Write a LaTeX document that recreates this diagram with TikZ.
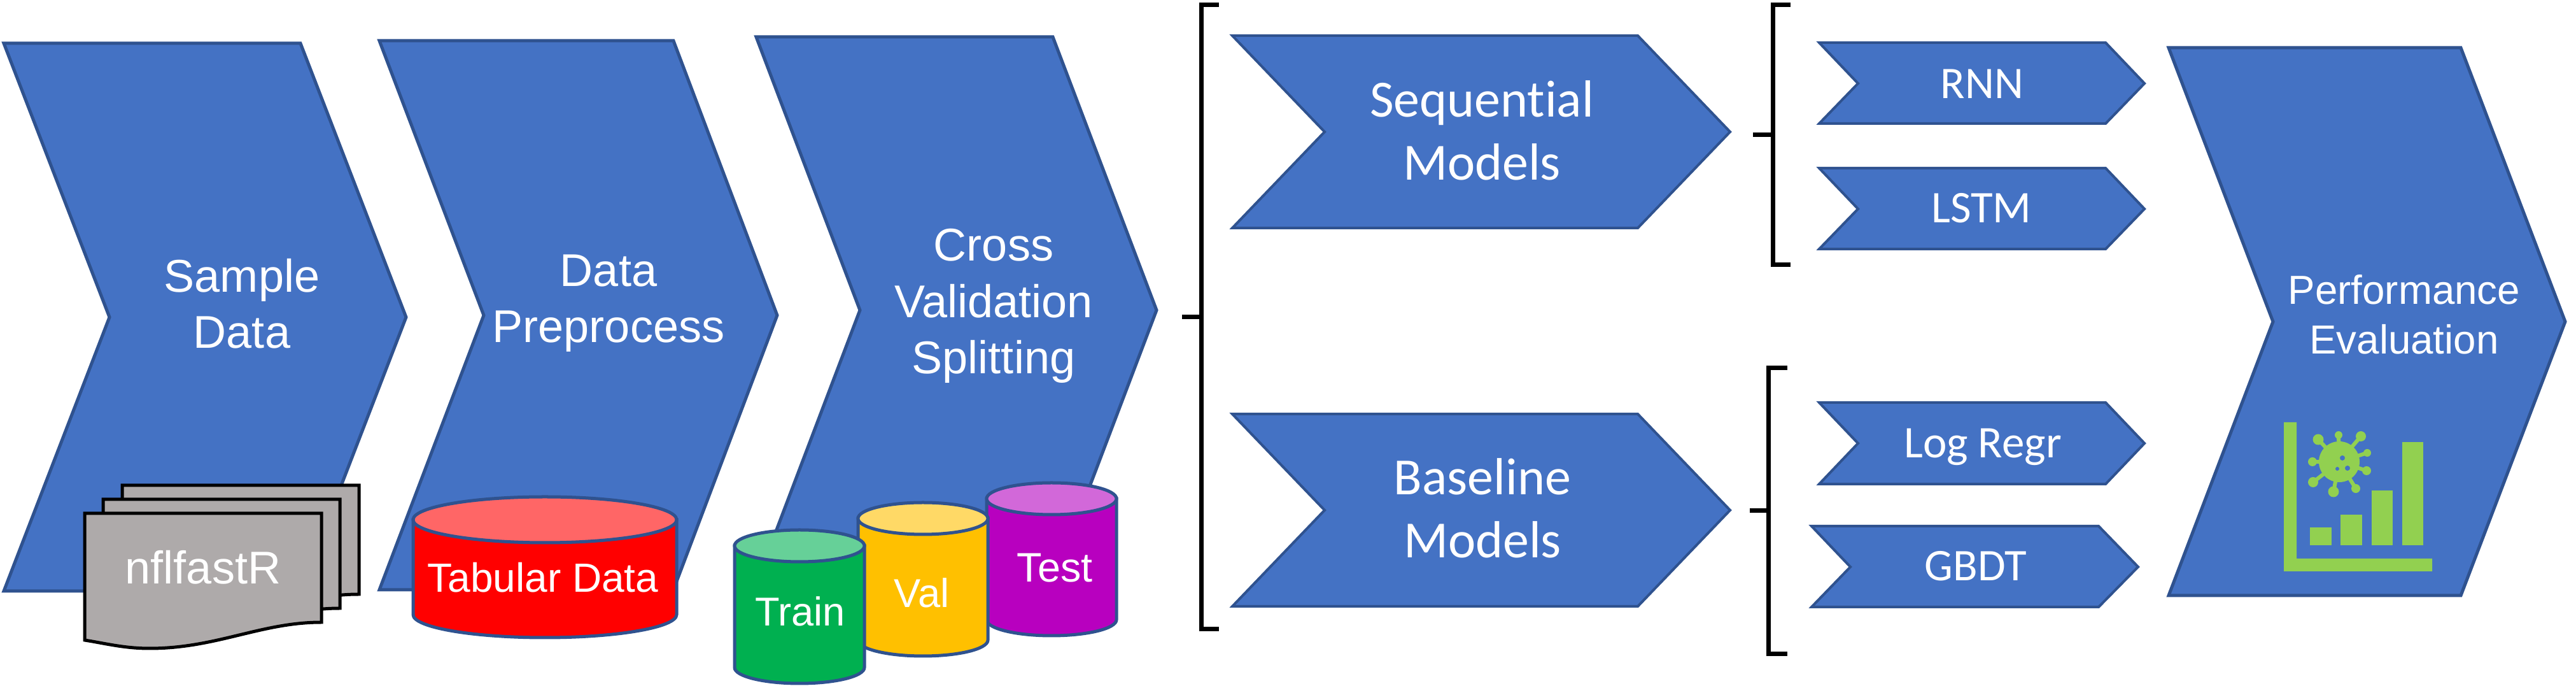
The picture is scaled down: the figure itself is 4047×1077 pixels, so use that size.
\documentclass[tikz,border=0pt]{standalone}
\usepackage{fontspec}
\setmainfont{Liberation Sans}
\newfontfamily\calfont[Ligatures=NoCommon]{Carlito}
\definecolor{chevfill}{HTML}{4472C4}
\definecolor{chevline}{HTML}{2F528F}
\definecolor{docfill}{HTML}{AEAAAA}
\definecolor{iconcol}{HTML}{92D050}
\tikzset{
  px/.style={line width=#1*0.2845pt},
  chevshape/.style={fill=chevfill,draw=chevline,line join=miter,miter limit=10},
  label/.style={text=white,inner sep=0pt,outer sep=0pt,align=center,anchor=base},
  arialbig/.style={label,font=\fontsize{20.5pt}{25.3pt}\selectfont},
  arialmid/.style={label,font=\fontsize{18.1pt}{22.2pt}\selectfont},
  calbig/.style={label,font=\calfont\fontsize{23.3pt}{28.2pt}\selectfont},
  calsmall/.style={label,font=\calfont\fontsize{20.2pt}{24pt}\selectfont},
  bracketline/.style={draw=black,px=7,line join=miter,line cap=butt},
  docshape/.style={fill=docfill,draw=black,px=5,line join=miter},
  cylshape/.style={draw=chevline,px=5},
  icon/.style={fill=iconcol,draw=none},
  spike/.style={draw=iconcol,px=6,line cap=round},
}
% name, line width, left, notch, shoulder, tip, top, mid, bottom
\newcommand{\chev}[9]{%
  \draw[chevshape,px=#2] (#3,#7) -- (#5,#7) -- (#6,#8) -- (#5,#9) -- (#3,#9) -- (#4,#8) -- cycle;
  \coordinate (#1) at (#6,#8);
}
% name, cx, top ellipse cy, bottom extreme, rx, ry, body, top colour
\newcommand{\cyl}[8]{%
  \pgfmathsetmacro{\cylL}{#2-#5}\pgfmathsetmacro{\cylR}{#2+#5}\pgfmathsetmacro{\cylB}{#4-#6}%
  \draw[cylshape,fill=#7] (\cylL,#3) -- (\cylL,\cylB) arc[start angle=180,end angle=360,x radius=#5*0.01cm,y radius=#6*0.01cm] -- (\cylR,#3) -- cycle;
  \draw[cylshape,fill=#8] (#2,#3) ellipse[x radius=#5*0.01cm,y radius=#6*0.01cm];
  \coordinate (#1) at (#2,#3);
}
\newcommand{\docsheet}[2]{%
  \begin{scope}[shift={(#1,#2)}]
    \draw[docshape] (133,806) -- (505,806) -- (505,977) .. controls (410,977) and (340,1018) .. (235,1018) .. controls (195,1018) and (165,1010) .. (133,1005) -- cycle;
  \end{scope}
}
\begin{document}
\begin{tikzpicture}[x=0.01cm,y=-0.01cm]
\useasboundingbox (0,0) rectangle (4047,1077);
\fill[white] (0,0) rectangle (4047,1077);

% main chevrons
\chev{c1}{5}{6}{172}{472}{638}{68}{498}{928}
\chev{c2}{5}{596}{760}{1058}{1221}{64}{495}{926}
\chev{c3}{5}{1188}{1351}{1654}{1817}{58}{487}{916}
\chev{c4}{5}{3407}{3571}{3866}{4030}{75}{505}{935}
\chev{seq}{4}{1936}{2081}{2573}{2718}{56}{207}{358}
\chev{base}{4}{1936}{2081}{2573}{2718}{650}{801}{952}
\chev{rnn}{4}{2858}{2919}{3308}{3369}{67}{131}{194}
\chev{lstm}{4}{2858}{2919}{3308}{3369}{264}{328}{391}
\chev{logr}{4}{2858}{2919}{3308}{3369}{632}{696}{760}
\chev{gbdt}{4}{2846}{2907}{3297}{3359}{826}{890}{953}

% labels in chevrons
\node[arialbig] (t1) at (380,547) {Sample\\Data};
\node[arialbig] (t2) at (956,538) {Data\\Preprocess};
\node[arialbig] (t3) at (1561,587) {Cross\\Validation\\Splitting};
\node[arialmid] (t4) at (3777,556) {Performance\\Evaluation};
\node[calbig] (tseq) at (2328,283) {Sequential\\Models};
\node[calbig] (tbase) at (2329,876) {Baseline\\Models};
\node[calsmall] (trnn) at (3114,155) {RNN};
\node[calsmall] (tlstm) at (3113,350) {LSTM};
\node[calsmall] (tlogr) at (3115,719) {Log Regr};
\node[calsmall] (tgbdt) at (3104,912) {GBDT};

% brackets
\coordinate (b1a) at (1915,8); \coordinate (b1b) at (1887,8); \coordinate (b1c) at (1887,988); \coordinate (b1d) at (1915,988);
\coordinate (b1s) at (1857,498); \coordinate (b1m) at (1887,498);
\draw[bracketline] (b1a) -- (b1b) -- (b1c) -- (b1d);
\draw[bracketline] (b1s) -- (b1m);
\coordinate (b2a) at (2813,8); \coordinate (b2b) at (2785,8); \coordinate (b2c) at (2785,416); \coordinate (b2d) at (2813,416);
\coordinate (b2s) at (2754,212); \coordinate (b2m) at (2785,212);
\draw[bracketline] (b2a) -- (b2b) -- (b2c) -- (b2d);
\draw[bracketline] (b2s) -- (b2m);
\coordinate (b3a) at (2808,578); \coordinate (b3b) at (2778,578); \coordinate (b3c) at (2778,1027); \coordinate (b3d) at (2808,1027);
\coordinate (b3s) at (2749,802); \coordinate (b3m) at (2778,802);
\draw[bracketline] (b3a) -- (b3b) -- (b3c) -- (b3d);
\draw[bracketline] (b3s) -- (b3m);

% documents
\docsheet{59}{-44}
\docsheet{29}{-22}
\docsheet{0}{0}
\node[arialbig] (tdoc) at (319,917) {nflfastR};

% cylinders
\cyl{cred}{856}{816}{1001}{207}{36}{red}{red!60!white}
\node[label,font=\fontsize{18.2pt}{22pt}\selectfont] (ttab) at (853,930) {Tabular Data};
\definecolor{testb}{HTML}{B800BF}\definecolor{testt}{HTML}{D268D9}
\definecolor{valb}{HTML}{FFC000}\definecolor{valt}{HTML}{FFD966}
\definecolor{trb}{HTML}{00B050}\definecolor{trt}{HTML}{66D098}
\cyl{ctest}{1652}{783}{998}{102}{25}{testb}{testt}
\cyl{cval}{1450}{814}{1030}{102}{25}{valb}{valt}
\cyl{ctrain}{1256}{857}{1073}{102}{25}{trb}{trt}
\node[label,font=\fontsize{18.4pt}{22pt}\selectfont] (ttest) at (1657,914) {Test};
\node[label,font=\fontsize{18pt}{22pt}\selectfont] (tval) at (1448,954) {Val};
\node[label,font=\fontsize{18pt}{22pt}\selectfont] (ttrain) at (1257,983) {Train};

% chart icon
\fill[icon] (3588,663) -- (3608,663) -- (3608,877) -- (3821,877) -- (3821,897) -- (3588,897) -- cycle;
\fill[icon] (3629,828) rectangle (3663,856);
\fill[icon] (3677,808) rectangle (3711,856);
\fill[icon] (3726,770) rectangle (3759,856);
\fill[icon] (3774,694) rectangle (3807,856);
% virus
\foreach \sx/\sy/\sr in {3642/690/.085,3674/683/.06,3709/685/.08,3719/711/.06,3718/739/.07,3701/767/.07,3666/772/.085,3634/757/.08,3633/725/.07}{
  \draw[spike] (3675,725) -- (\sx,\sy);
  \fill[icon] (\sx,\sy) circle[radius=\sr cm];
}
\fill[icon] (3675,725) ellipse[x radius=.32cm,y radius=.32cm];
\fill[chevfill] (3680,719) circle[radius=.04cm];
\fill[chevfill] (3672,736) circle[radius=.03cm];
\fill[chevfill] (3688,735) circle[radius=.04cm];
\end{tikzpicture}
\end{document}
